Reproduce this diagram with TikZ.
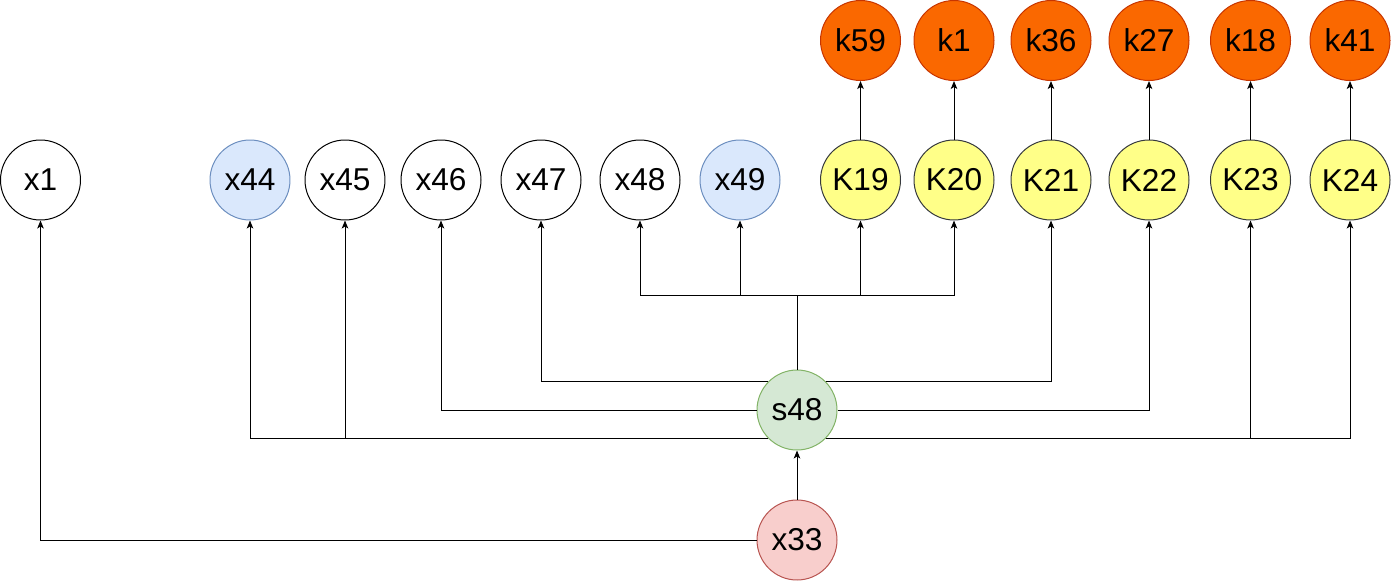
\documentclass[tikz,border=0pt]{standalone}
\usepackage{fontspec}
\setmainfont{Liberation Sans}
\usetikzlibrary{arrows.meta}
\definecolor{bluef}{HTML}{DAE8FC}\definecolor{bluel}{HTML}{6C8EBF}
\definecolor{greenf}{HTML}{D5E8D4}\definecolor{greenl}{HTML}{82B366}
\definecolor{redf}{HTML}{F8CECC}\definecolor{redl}{HTML}{B85450}
\definecolor{yelf}{HTML}{FFFF88}\definecolor{yell}{HTML}{36393D}
\definecolor{oraf}{HTML}{FA6800}\definecolor{oral}{HTML}{C73500}
\tikzset{
  circ/.style={circle,draw=black,fill=white,line width=0.02cm,minimum size=1.6cm,inner sep=0pt,
    font=\fontsize{18pt}{21pt}\selectfont},
  bluen/.style={circ,fill=bluef,draw=bluel},
  greenn/.style={circ,fill=greenf,draw=greenl},
  redn/.style={circ,fill=redf,draw=redl},
  yeln/.style={circ,fill=yelf,draw=yell},
  oran/.style={circ,fill=oraf,draw=oral},
  conn/.style={draw=black,line width=0.02cm,-{Stealth[length=0.16cm,width=0.13cm,inset=0.04cm]}},
}
\begin{document}
\begin{tikzpicture}[x=0.02cm,y=-0.02cm]
\useasboundingbox (0,0) rectangle (1392,581);
% nodes
\node[circ] (x1) at (40.5,180) {x1};
\node[bluen] (x44) at (250,180) {x44};
\node[circ] (x45) at (345,180) {x45};
\node[circ] (x46) at (441,180) {x46};
\node[circ] (x47) at (541,180) {x47};
\node[circ] (x48) at (640,180) {x48};
\node[bluen] (x49) at (740,180) {x49};
\node[yeln] (K19) at (860.5,180) {K19};
\node[yeln] (K20) at (954,180) {K20};
\node[yeln] (K21) at (1051,180) {K21};
\node[yeln] (K22) at (1149,180) {K22};
\node[yeln] (K23) at (1250.5,180) {K23};
\node[yeln] (K24) at (1350,180) {K24};
\node[oran] (k59) at (860.5,40.5) {k59};
\node[oran] (k1) at (954,40.5) {k1};
\node[oran] (k36) at (1051,40.5) {k36};
\node[oran] (k27) at (1149,40.5) {k27};
\node[oran] (k18) at (1250.5,40.5) {k18};
\node[oran] (k41) at (1350,40.5) {k41};
\node[greenn] (s48) at (797,410) {s48};
\node[redn] (x33) at (797,540) {x33};
\coordinate (top) at (797,295);
% connectors
\draw[conn] (x33) -- (s48);
\draw[conn] (x33.west) -| (x1.south);
\foreach \t in {x48,x49,K19,K20}{
  \draw[conn] (s48.north) -- (top) -| (\t.south);
}
\draw[conn] (s48.135) -| (x47.south);
\draw[conn] (s48.45) -| (K21.south);
\draw[conn] (s48.west) -| (x46.south);
\draw[conn] (s48.east) -| (K22.south);
\draw[conn] (s48.225) -| (x44.south);
\draw[conn] (s48.225) -| (x45.south);
\draw[conn] (s48.-45) -| (K23.south);
\draw[conn] (s48.-45) -| (K24.south);
\draw[conn] (K19) -- (k59);
\draw[conn] (K20) -- (k1);
\draw[conn] (K21) -- (k36);
\draw[conn] (K22) -- (k27);
\draw[conn] (K23) -- (k18);
\draw[conn] (K24) -- (k41);
\end{tikzpicture}
\end{document}
